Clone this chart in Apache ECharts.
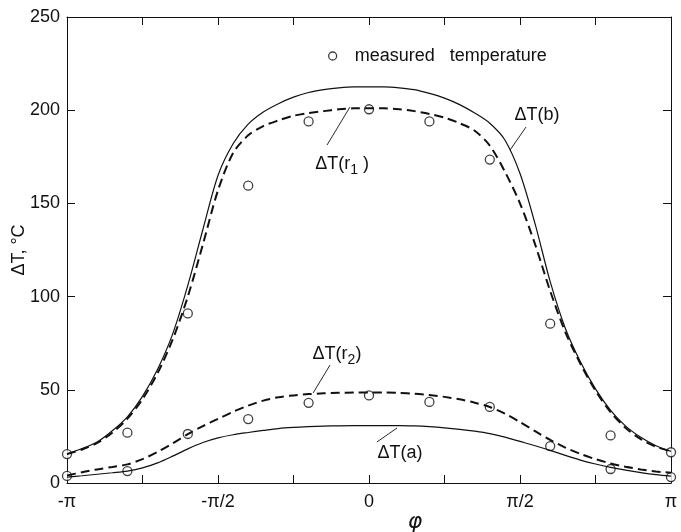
<!DOCTYPE html>
<html>
<head>
<meta charset="utf-8">
<script src="https://cdn.jsdelivr.net/npm/echarts@6/dist/echarts.min.js"></script>
<style>
  html, body { margin: 0; padding: 0; background: #fff; }
  #chart { width: 681px; height: 532px; }
</style>
</head>
<body>
<div id="chart"></div>
<script>
// phi in units of pi
var phiCurve = [-1, -0.95, -0.9, -0.85, -0.8, -0.75, -0.7, -0.65, -0.6, -0.55, -0.5,
  -0.45, -0.4, -0.35, -0.3, -0.25, -0.2, -0.15, -0.1, -0.05, 0,
  0.05, 0.1, 0.15, 0.2, 0.25, 0.3, 0.35, 0.4, 0.45, 0.5,
  0.55, 0.6, 0.65, 0.7, 0.75, 0.8, 0.85, 0.9, 0.95, 1];

var curveB = [15.5, 18.5, 22, 28, 35.5, 46.5, 61, 80, 106, 136, 165,
  182, 192.5, 199, 203.5, 207, 209.5, 211, 212, 212.5, 212.5,
  212.5, 212, 211, 209, 206.5, 203, 198.5, 193, 184, 166,
  139, 108, 83, 65, 50.5, 39, 30.5, 24.5, 20, 17];

var curveR1 = [15.5, 18, 21.5, 27, 34.5, 45, 59, 77, 100, 128, 157,
  177, 186.5, 191.5, 194.5, 197, 198.5, 199.5, 200.5, 201, 201,
  201, 200.5, 199.5, 198, 196, 193, 189, 181, 167, 150,
  128, 103, 81, 64, 49.5, 38, 29.5, 23.5, 19.5, 17];

var curveR2 = [4, 5.8, 7.3, 8.6, 10, 12.8, 16.7, 21.3, 26.2, 30.5, 34.4,
  38.2, 41.5, 44.2, 46, 47, 47.7, 48.1, 48.4, 48.5, 48.5,
  48.5, 48.3, 47.9, 47.2, 46.2, 44.9, 43.1, 40.8, 37.2, 32.7,
  27.8, 23.1, 19, 15.6, 12.8, 10.5, 8.7, 7.3, 6.2, 5.5];

var curveA = [3.2, 3.9, 4.7, 5.5, 6.4, 8.1, 10.8, 14.4, 18.3, 21.7, 24.2,
  25.9, 27.1, 28.2, 29.2, 29.8, 30.2, 30.5, 30.7, 30.8, 30.8,
  30.8, 30.8, 30.6, 30.2, 29.6, 28.8, 27.8, 26.5, 24.6, 22.3,
  20, 17.5, 14.8, 12.3, 10.2, 8.4, 6.9, 5.6, 4.5, 3.7];

var phiMeas = [-1, -0.8, -0.6, -0.4, -0.2, 0, 0.2, 0.4, 0.6, 0.8, 1];
var measUpper = [15.5, 27, 91, 159.5, 194, 200.5, 194, 173.5, 85.5, 25.5, 16.5];
var measLower = [3.8, 6.4, 26.3, 34.3, 43, 47, 43.5, 40.8, 19.8, 7.5, 3.2];

var xTickLabels = { '-1': '-π', '-0.5': '-π/2', '0': '0', '0.5': 'π/2', '1': 'π' };

function pairs(xs, ys) {
  return xs.map(function (x, i) { return [x, ys[i]]; });
}

var FONT = 'Liberation Sans';
var INK = '#111';

// curve labels with leader lines, in data coordinates
function note(text, at, from, to, rich) {
  return {
    markPoint: {
      symbol: 'circle', symbolSize: 1, silent: true,
      itemStyle: { color: 'rgba(0,0,0,0)' },
      label: { show: true, position: 'inside', formatter: text, color: INK,
        fontFamily: FONT, fontSize: 18, rich: rich || {} },
      data: [{ coord: at }]
    },
    markLine: {
      symbol: 'none', silent: true, animation: false,
      lineStyle: { color: INK, width: 0.9, type: 'solid' },
      label: { show: false },
      data: [[{ coord: from }, { coord: to }]]
    }
  };
}

var sub = { s: { fontSize: 14, fontFamily: FONT, color: INK, padding: [12, 0, 0, 0] } };

var chart = echarts.init(document.getElementById('chart'));

var axisLine = { show: true, onZero: false, lineStyle: { color: INK, width: 1 } };
var tick = { show: true, inside: true, length: 8, lineStyle: { color: INK, width: 1 } };

chart.setOption({
  backgroundColor: '#fff',
  animation: false,
  grid: { left: 67, right: 10, top: 17, bottom: 49, containLabel: false, outerBoundsMode: 'none' },
  legend: {
    data: ['measured temperature'],
    left: 323, top: 42,
    icon: 'circle', itemWidth: 8, itemHeight: 8,
    formatter: function () { return 'measured   temperature'; },
    textStyle: { fontFamily: FONT, fontSize: 18, color: INK, padding: [0, 0, 0, 13] },
    itemStyle: { color: '#fff', borderColor: INK, borderWidth: 1.3 }
  },
  xAxis: [{
    type: 'value', min: -1, max: 1, interval: 0.25, position: 'bottom',
    axisLine: axisLine, axisTick: tick, splitLine: { show: false },
    axisLabel: {
      margin: 10, color: INK, fontFamily: FONT, fontSize: 18,
      formatter: function (v) { var k = String(v); return xTickLabels[k] !== undefined ? xTickLabels[k] : ''; }
    },
    name: 'φ', nameLocation: 'middle', nameGap: 28, nameMoveOverlap: false,
    nameTextStyle: { color: INK, fontFamily: 'DejaVu Sans', fontStyle: 'italic', fontSize: 22, padding: [0, 0, 0, 92] }
  }, {
    type: 'value', min: -1, max: 1, interval: 0.25, position: 'top',
    axisLine: axisLine, axisTick: tick, splitLine: { show: false },
    axisLabel: { show: false }
  }],
  yAxis: [{
    type: 'value', min: 0, max: 250, interval: 50, position: 'left',
    axisLine: axisLine, axisTick: tick, splitLine: { show: false },
    axisLabel: { margin: 7, color: INK, fontFamily: FONT, fontSize: 18 },
    name: 'ΔT, °C', nameLocation: 'middle', nameGap: 39, nameMoveOverlap: false,
    nameTextStyle: { color: INK, fontFamily: FONT, fontSize: 18 }
  }, {
    type: 'value', min: 0, max: 250, interval: 50, position: 'right',
    axisLine: axisLine, axisTick: tick, splitLine: { show: false },
    axisLabel: { show: false }
  }],
  series: [
    Object.assign({
      name: 'ΔT(b)', type: 'line', data: pairs(phiCurve, curveB),
      smooth: 0.3, showSymbol: false, silent: true,
      lineStyle: { color: INK, width: 1.2 }
    }, note('ΔT(b)', [0.556, 197.4], [0.52, 191], [0.467, 178.6])),
    Object.assign({
      name: 'ΔT(r1)', type: 'line', data: pairs(phiCurve, curveR1),
      smooth: 0.3, showSymbol: false, silent: true,
      lineStyle: { color: INK, width: 2, type: [9, 5] }
    }, note('ΔT(r{s|1} )', [-0.089, 171], [-0.139, 181.3], [-0.063, 201.7], sub)),
    Object.assign({
      name: 'ΔT(r2)', type: 'line', data: pairs(phiCurve, curveR2),
      smooth: 0.3, showSymbol: false, silent: true,
      lineStyle: { color: INK, width: 2, type: [9, 5] }
    }, note('ΔT(r{s|2})', [-0.106, 69], [-0.129, 63.3], [-0.185, 48.3], sub)),
    Object.assign({
      name: 'ΔT(a)', type: 'line', data: pairs(phiCurve, curveA),
      smooth: 0.3, showSymbol: false, silent: true,
      lineStyle: { color: INK, width: 1.2 }
    }, note('ΔT(a)', [0.103, 16.1], [0.026, 22], [0.093, 29.5])),
    {
      name: 'measured temperature', type: 'scatter', clip: false,
      data: pairs(phiMeas, measUpper).concat(pairs(phiMeas, measLower)),
      symbol: 'circle', symbolSize: 9,
      itemStyle: { color: '#fff', borderColor: INK, borderWidth: 1.3 }
    }
  ]
});
</script>
</body>
</html>
